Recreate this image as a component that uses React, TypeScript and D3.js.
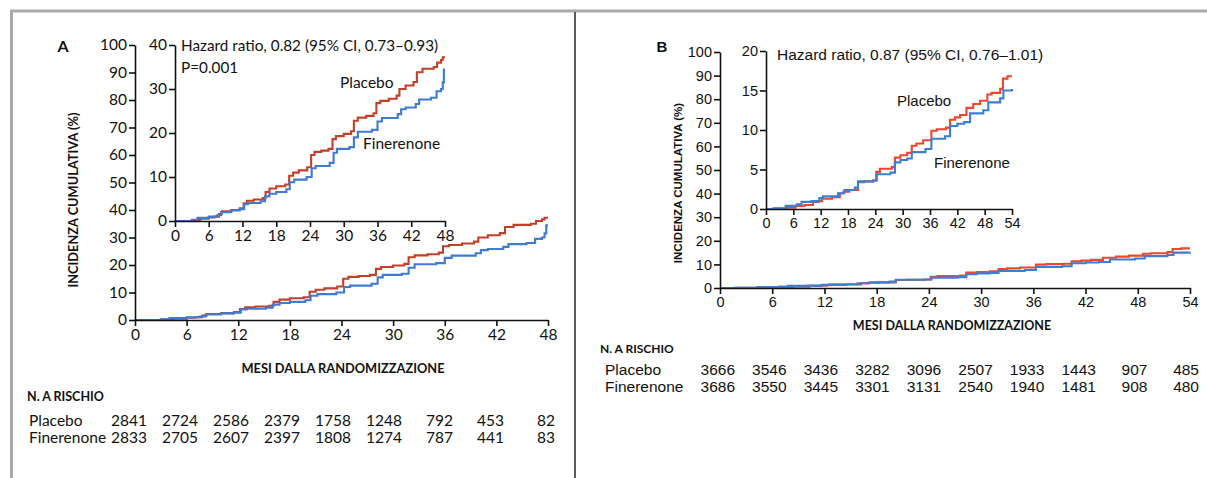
import React, { useEffect, useRef } from 'react';
import * as d3 from 'd3';

// ---------- DATA ----------
const ticksA = [0, 6, 12, 18, 24, 30, 36, 42, 48];
const ticksB = [0, 6, 12, 18, 24, 30, 36, 42, 48, 54];
const yTicksMain = [0, 10, 20, 30, 40, 50, 60, 70, 80, 90, 100];
const yTicksInsetA = [0, 10, 20, 30, 40];
const yTicksInsetB = [0, 5, 10, 15, 20];

const placeboA_t = [0, 3, 4.5, 6, 7, 7.8, 8.3, 10, 11.5, 12.2, 12.8, 14, 15.6, 16.1, 16.8, 18, 19.6, 20.3, 21, 22, 23.5, 24.2, 24.8, 26, 27.3, 28, 28.6, 30, 31.3, 31.8, 32.5, 34, 35.3, 35.8, 36.5, 38, 39.4, 39.9, 41, 42.4, 43, 44, 46, 46.6, 47.3, 47.6, 48];
const placeboA_v = [0, 0.2, 0.5, 0.8, 1.0, 1.6, 2.2, 2.5, 2.9, 4.0, 4.6, 4.9, 5.2, 6.6, 7.4, 7.9, 8.3, 10.3, 11.0, 11.5, 12.2, 15.0, 15.7, 16.0, 16.4, 18.6, 19.3, 19.8, 20.4, 22.8, 23.5, 23.9, 24.5, 26.8, 27.3, 27.8, 28.5, 30.0, 30.8, 31.6, 33.8, 34.6, 35.0, 36.0, 36.6, 37.2, 37.2];
const fineA_t = [0, 3, 4, 6, 7.5, 8.2, 10, 11.5, 12.3, 13, 15.2, 16, 16.8, 18, 19.8, 20.4, 21.2, 23.4, 24.3, 25, 27.5, 28.2, 28.8, 31, 31.8, 32.5, 35, 36, 36.8, 39.6, 40.2, 41, 42.8, 43.4, 45.5, 46.5, 47.3, 47.6, 47.8, 48];
const fineA_v = [0, 0.3, 0.7, 1.0, 1.3, 2.0, 2.4, 2.7, 3.8, 4.1, 4.5, 5.6, 6.2, 6.6, 7.2, 8.8, 9.4, 10.0, 12.0, 12.5, 13.2, 15.5, 16.4, 16.8, 19.0, 20.3, 20.7, 22.6, 23.4, 24.3, 25.4, 25.8, 26.6, 27.6, 28.0, 29.5, 30.0, 31.5, 34.4, 34.4];

const placeboB_t = [0, 2, 4.5, 6.5, 8.5, 10.3, 11.5, 12.3, 14.5, 16.2, 17, 18.3, 20.2, 21.5, 23.5, 24.2, 25, 27.6, 28.3, 29.5, 31, 32, 33, 34.5, 36.3, 37.5, 39.5, 40.4, 41.5, 42.6, 44, 45.5, 47, 48.6, 49.5, 51.4, 52, 53, 54];
const placeboB_v = [0, 0.05, 0.15, 0.4, 0.5, 0.9, 1.0, 1.3, 1.5, 2.0, 2.2, 2.4, 3.4, 3.5, 3.6, 4.7, 5.1, 5.3, 6.5, 6.8, 7.1, 8.0, 8.3, 8.7, 9.9, 10.1, 10.3, 11.3, 11.6, 11.9, 12.8, 13.3, 13.7, 14.5, 14.7, 15.2, 16.5, 16.8, 16.8];
const fineB_t = [0, 1.6, 4.3, 6.8, 7.8, 10, 11.7, 12.5, 15.8, 17.2, 19.5, 20.2, 23.5, 24.3, 27.3, 28.3, 29.5, 31, 32, 35, 36.3, 39.3, 40.4, 42, 43.5, 44.8, 47.7, 48.8, 51.4, 52.1, 54];
const fineB_v = [0, 0.1, 0.4, 0.6, 0.9, 1.0, 1.4, 1.6, 2.0, 2.4, 2.7, 3.5, 3.6, 4.4, 4.6, 5.9, 6.2, 6.4, 7.2, 7.6, 8.9, 9.2, 10.5, 10.8, 11.0, 12.1, 12.5, 13.5, 14.0, 15.0, 15.2];

const riskA_placebo = [2841, 2724, 2586, 2379, 1758, 1248, 792, 453, 82];
const riskA_fine = [2833, 2705, 2607, 2397, 1808, 1274, 787, 441, 83];
const riskB_placebo = [3666, 3546, 3436, 3282, 3096, 2507, 1933, 1443, 907, 485];
const riskB_fine = [3686, 3550, 3445, 3301, 3131, 2540, 1940, 1481, 908, 480];

const hrA = 'Hazard ratio, 0.82 (95% CI, 0.73–0.93)';
const pA = 'P=0.001';
const hrB = 'Hazard ratio, 0.87 (95% CI, 0.76–1.01)';
const yLabel = 'INCIDENZA CUMULATIVA (%)';
const xLabel = 'MESI DALLA RANDOMIZZAZIONE';
const riskTitle = 'N. A RISCHIO';
const seriesNames = ['Placebo', 'Finerenone'];

const FONT_A = 'Lato, "Open Sans", sans-serif';
const FONT_B = '"Liberation Sans", Arial, sans-serif';

function zip(t: number[], v: number[]) {
  return t.map((tt, i) => [tt, v[i]] as [number, number]);
}

export default function App() {
  const ref = useRef<SVGSVGElement>(null);

  useEffect(() => {
    const svg = d3.select(ref.current);
    svg.selectAll('*').remove();

    // frame
    svg.append('rect').attr('x', 0).attr('y', 0).attr('width', 1207).attr('height', 478).attr('fill', '#fff');
    svg.append('line').attr('x1', 10).attr('x2', 1207).attr('y1', 11).attr('y2', 11).attr('stroke', '#a9a9a9').attr('stroke-width', 3);
    svg.append('line').attr('x1', 11.5).attr('x2', 11.5).attr('y1', 10).attr('y2', 478).attr('stroke', '#a9a9a9').attr('stroke-width', 3);
    svg.append('line').attr('x1', 575).attr('x2', 575).attr('y1', 12).attr('y2', 478).attr('stroke', '#333').attr('stroke-width', 1.6);

    function axes(g: any, x: any, y: any, xt: number[], yt: number[], font: string, fs: number) {
      const ax = g.append('g').attr('transform', `translate(0,${y.range()[0]})`)
        .call(d3.axisBottom(x).tickValues(xt).tickSize(6).tickSizeOuter(0).tickPadding(3));
      const ay = g.append('g').attr('transform', `translate(${x.range()[0]},0)`)
        .call(d3.axisLeft(y).tickValues(yt).tickSize(6).tickSizeOuter(0).tickPadding(2));
      [ax, ay].forEach((a: any) => {
        a.selectAll('path,line').attr('stroke', '#111').attr('stroke-width', 1.6);
        a.selectAll('text').attr('font-family', font).attr('font-size', fs).attr('fill', '#111');
      });
    }

    function curves(g: any, x: any, y: any, data: [number, number][][], colors: string[], w: number) {
      const line = d3.line<[number, number]>().x(d => x(d[0])).y(d => y(d[1])).curve(d3.curveStepAfter);
      data.forEach((d, i) => {
        g.append('path').attr('d', line(d)).attr('fill', 'none').attr('stroke', colors[i]).attr('stroke-width', w);
      });
    }

    const text = (txt: string, xx: number, yy: number, font: string, fs: number, opts: any = {}) => {
      const t = svg.append('text').attr('x', xx).attr('y', yy).text(txt)
        .attr('font-family', font).attr('font-size', fs).attr('fill', opts.fill || '#111')
        .attr('text-anchor', opts.anchor || 'start').attr('font-weight', opts.bold ? 700 : 400);
      if (opts.rotate) t.attr('transform', `rotate(-90,${xx},${yy})`);
      return t;
    };

    const colA = ['#c2402a', '#3f7bd0'];
    const colB = ['#ee4630', '#3b7fd3'];

    // ---------- PANEL A ----------
    const gA = svg.append('g');
    const xA = d3.scaleLinear().domain([0, 48]).range([135, 548]);
    const yA = d3.scaleLinear().domain([0, 100]).range([320, 45]);
    curves(gA, xA, yA, [zip(placeboA_t, placeboA_v), zip(fineA_t, fineA_v)], colA, 2.1);
    axes(gA, xA, yA, ticksA, yTicksMain, FONT_A, 15.5);

    const xAi = d3.scaleLinear().domain([0, 48]).range([175, 445]);
    const yAi = d3.scaleLinear().domain([0, 40]).range([221, 45]);
    const gAi = svg.append('g');
    curves(gAi, xAi, yAi, [zip(placeboA_t, placeboA_v), zip(fineA_t, fineA_v)], colA, 2.1);
    axes(gAi, xAi, yAi, ticksA, yTicksInsetA, FONT_A, 15.5);

    text('A', 63, 52, FONT_A, 16, { bold: true, anchor: 'middle' });
    text(hrA, 181, 51, FONT_A, 15.3);
    text(pA, 181, 73, FONT_A, 15.3);
    text(seriesNames[0], 340, 88, FONT_A, 15.5);
    text(seriesNames[1], 363, 149, FONT_A, 15.5);
    text(yLabel, 78, 200, FONT_A, 12.8, { bold: true, anchor: 'middle', rotate: true });
    text(xLabel, 343, 373, FONT_A, 12.8, { bold: true, anchor: 'middle' });

    text(riskTitle, 27, 401, FONT_A, 12.5, { bold: true });
    text(seriesNames[0], 29, 426, FONT_A, 15.5);
    text(seriesNames[1], 29, 443, FONT_A, 15.5);
    const colAx = d3.scaleLinear().domain([0, riskA_placebo.length - 1]).range([147, 555]);
    riskA_placebo.forEach((v, i) => text(String(v), colAx(i), 426, FONT_A, 15.5, { anchor: 'end' }));
    riskA_fine.forEach((v, i) => text(String(v), colAx(i), 443, FONT_A, 15.5, { anchor: 'end' }));

    // ---------- PANEL B ----------
    const gB = svg.append('g');
    const xB = d3.scaleLinear().domain([0, 54]).range([720, 1190]);
    const yB = d3.scaleLinear().domain([0, 100]).range([288, 52]);
    curves(gB, xB, yB, [zip(placeboB_t, placeboB_v), zip(fineB_t, fineB_v)], colB, 2.1);
    axes(gB, xB, yB, ticksB, yTicksMain, FONT_B, 14.5);

    const xBi = d3.scaleLinear().domain([0, 54]).range([766, 1012]);
    const yBi = d3.scaleLinear().domain([0, 20]).range([209, 51]);
    const gBi = svg.append('g');
    curves(gBi, xBi, yBi, [zip(placeboB_t, placeboB_v), zip(fineB_t, fineB_v)], colB, 2.1);
    axes(gBi, xBi, yBi, ticksB, yTicksInsetB, FONT_B, 14.5);

    text('B', 662, 52, FONT_B, 15, { bold: true, anchor: 'middle' });
    text(hrB, 777, 60, FONT_B, 15.5);
    text(seriesNames[0], 897, 106, FONT_B, 15);
    text(seriesNames[1], 934, 168, FONT_B, 15);
    text(yLabel, 682, 183, FONT_B, 11.5, { bold: true, anchor: 'middle', rotate: true });
    text(xLabel, 952, 330, FONT_A, 12.5, { bold: true, anchor: 'middle' });

    text(riskTitle, 600, 353, FONT_A, 12, { bold: true });
    text(seriesNames[0], 605, 375, FONT_B, 15.5);
    text(seriesNames[1], 605, 392, FONT_B, 15.5);
    const colBx = d3.scaleLinear().domain([0, riskB_placebo.length - 1]).range([735, 1199]);
    riskB_placebo.forEach((v, i) => text(String(v), colBx(i), 375, FONT_B, 15.5, { anchor: 'end' }));
    riskB_fine.forEach((v, i) => text(String(v), colBx(i), 392, FONT_B, 15.5, { anchor: 'end' }));
  }, []);

  return (
    <svg ref={ref} width={1207} height={478} style={{ position: 'absolute', left: 0, top: 0, display: 'block' }} />
  );
}
